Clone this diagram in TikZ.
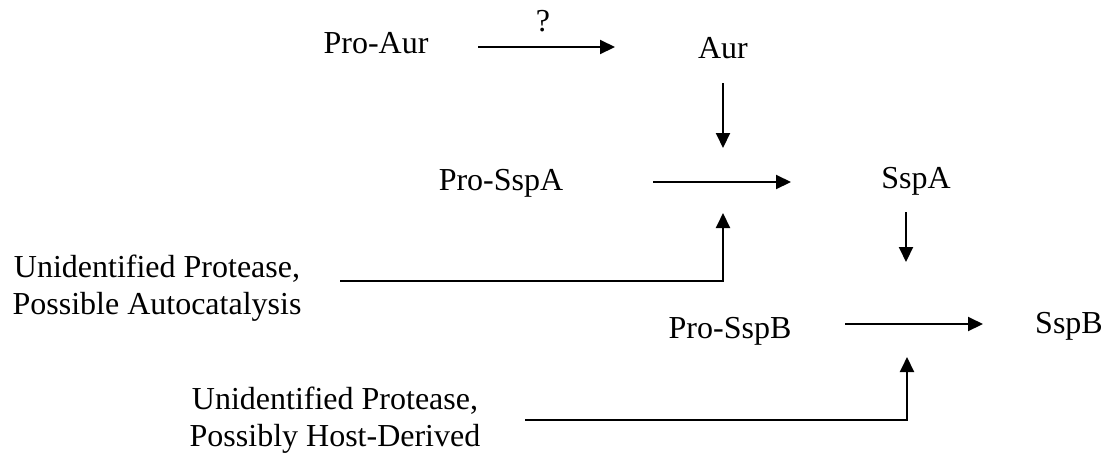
\documentclass[tikz,border=0pt]{standalone}
\usepackage{fontspec}
\setmainfont{Liberation Serif}
\usetikzlibrary{arrows.meta}
\begin{document}
\begin{tikzpicture}[x=1pt,y=-1pt,
  lbl/.style={font=\fontsize{32}{37}\selectfont, inner sep=0pt},
  blk/.style={lbl, align=center},
  arr/.style={line width=2pt, -{Triangle[length=15pt,width=14pt]}},
  ln/.style={line width=2pt}]
\useasboundingbox (0,0) rectangle (1115,459);
% labels
\node[lbl,anchor=base] (proaur) at (376,53) {Pro-Aur};
\node[lbl,anchor=base] (q) at (543,31) {?};
\node[lbl,anchor=base] (aur) at (723,58) {Aur};
\node[lbl,anchor=base] (prosspa) at (501,190) {Pro-SspA};
\node[lbl,anchor=base] (sspa) at (916,188) {SspA};
\node[lbl,anchor=base] (prosspb) at (730,338) {Pro-SspB};
\node[lbl,anchor=base] (sspb) at (1069,333) {SspB};
\node[blk] (prot1) at (157,288) {Unidentified Protease,\\Possible Autocatalysis};
\node[blk] (prot2) at (335,420) {Unidentified Protease,\\Possibly Host-Derived};
% connector end points
\coordinate (a1s) at (478,47);
\coordinate (a1e) at (615,47);
\coordinate (a2s) at (723,83);
\coordinate (a2e) at (723,148);
\coordinate (a3s) at (653,182);
\coordinate (a3e) at (791,182);
\coordinate (p1s) at (340,281);
\coordinate (p1e) at (723,213);
\coordinate (a4s) at (906,212);
\coordinate (a4e) at (906,262);
\coordinate (a5s) at (845,324);
\coordinate (a5e) at (983,324);
\coordinate (p2s) at (525,420);
\coordinate (p2e) at (907,357);
% connectors
\draw[arr] (a1s) -- (a1e);
\draw[arr] (a2s) -- (a2e);
\draw[arr] (a3s) -- (a3e);
\draw[arr] (p1s) -| (p1e);
\draw[arr] (a4s) -- (a4e);
\draw[arr] (a5s) -- (a5e);
\draw[arr] (p2s) -| (p2e);
\end{tikzpicture}
\end{document}
